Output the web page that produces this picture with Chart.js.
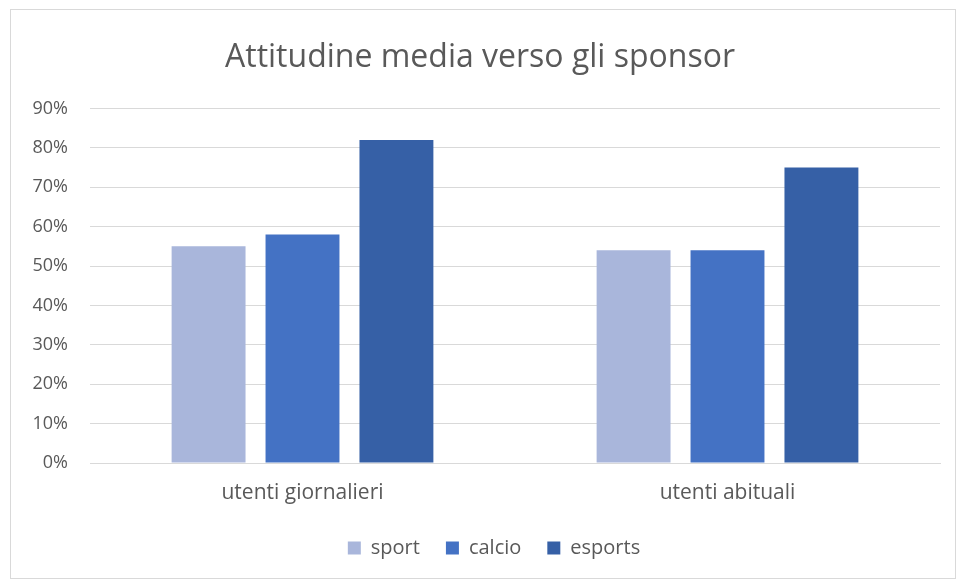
<!DOCTYPE html>
<html>
<head>
<meta charset="utf-8">
<script src="https://cdn.jsdelivr.net/npm/chart.js@4.4.1/dist/chart.umd.min.js"></script>
<style>
  html, body { margin: 0; padding: 0; background: #fff; }
  #wrap { position: relative; width: 958px; height: 580px; }
</style>
</head>
<body>
<div id="wrap"><canvas id="chart" width="958" height="580"></canvas></div>
<script>
// chart data
const categories = ["utenti giornalieri", "utenti abituali"];
const seriesNames = ["sport", "calcio", "esports"];
const sportValues = [55, 54];
const calcioValues = [58, 54];
const esportsValues = [82, 75];
const seriesColors = ["#A9B6DB", "#4472C4", "#3660A6"];
const yTicks = [0, 10, 20, 30, 40, 50, 60, 70, 80, 90];

const textColor = "#595959";
const gridColor = "#D9D9D9";
const fontFamily = "'Open Sans', sans-serif";

// light frame around the whole chart, legend nudged a bit to the right
const framePlugin = {
  id: "frame",
  afterLayout(chart) {
    chart.legend.left += 14;
    chart.legend.right += 14;
  },
  beforeDraw(chart) {
    const ctx = chart.ctx;
    ctx.save();
    ctx.fillStyle = "#fff";
    ctx.fillRect(0, 0, chart.width, chart.height);
    ctx.strokeStyle = gridColor;
    ctx.lineWidth = 1;
    ctx.strokeRect(10.5, 9.5, 945, 569);
    ctx.restore();
  },
};

const allValues = [sportValues, calcioValues, esportsValues];

new Chart(document.getElementById("chart"), {
  type: "bar",
  data: {
    labels: categories,
    datasets: seriesNames.map((name, i) => ({
      label: name,
      data: allValues[i],
      backgroundColor: seriesColors[i],
      borderWidth: 0,
      categoryPercentage: 0.663,
      barPercentage: 0.787,
    })),
  },
  options: {
    responsive: false,
    animation: false,
    layout: {
      padding: { left: 20, right: 18, top: 0, bottom: 12 },
    },
    plugins: {
      title: {
        display: true,
        text: "Attitudine media verso gli sponsor",
        color: textColor,
        font: { family: fontFamily, size: 32, weight: "normal" },
        padding: { top: 39, bottom: 31 },
      },
      legend: {
        position: "bottom",
        labels: {
          color: textColor,
          font: { family: fontFamily, size: 20 },
          boxWidth: 13,
          boxHeight: 13,
          padding: 26,
        },
      },
      tooltip: { enabled: false },
    },
    scales: {
      x: {
        afterFit(scale) {
          scale.height = 49;
        },
        grid: { display: false },
        border: { color: gridColor, width: 1 },
        ticks: {
          color: textColor,
          font: { family: fontFamily, size: 21 },
          padding: 9,
        },
      },
      y: {
        min: 0,
        max: 90,
        afterFit(scale) {
          scale.width = 70;
        },
        afterBuildTicks(scale) {
          scale.ticks = yTicks.map((v) => ({ value: v }));
        },
        grid: { color: gridColor, lineWidth: 1, drawTicks: false },
        border: { display: false },
        ticks: {
          color: textColor,
          font: { family: fontFamily, size: 18 },
          padding: 22,
          callback: (v) => v + "%",
        },
      },
    },
  },
  plugins: [framePlugin],
});
</script>
</body>
</html>
